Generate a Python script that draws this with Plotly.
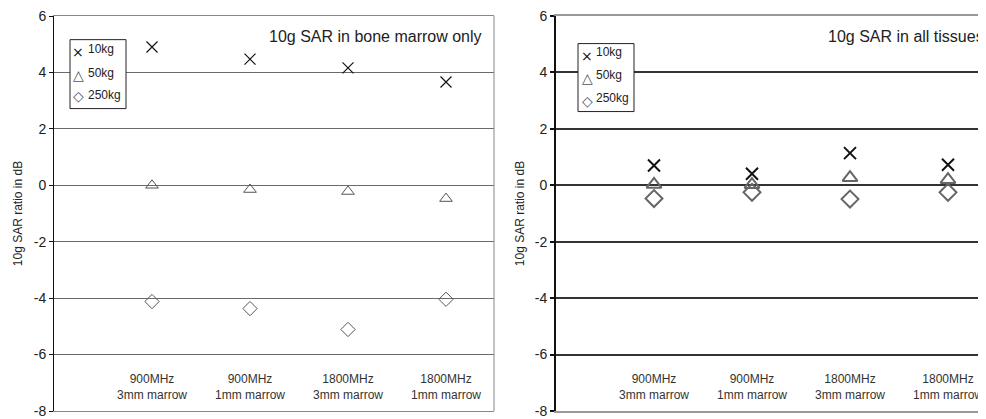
import plotly.graph_objects as go

categories = ["900MHz<br>3mm marrow", "900MHz<br>1mm marrow", "1800MHz<br>3mm marrow", "1800MHz<br>1mm marrow"]
cat_pos = [1, 2, 3, 4]
series_names = ["10kg", "50kg", "250kg"]
legend_symbols = ["×", "△", "◇"]

marrow_10kg = [4.9, 4.47, 4.16, 3.66]
marrow_50kg = [0.0, -0.15, -0.22, -0.47]
marrow_250kg = [-4.12, -4.37, -5.11, -4.04]

tissue_10kg = [0.70, 0.41, 1.14, 0.73]
tissue_50kg = [0.03, 0.02, 0.27, 0.2]
tissue_250kg = [-0.47, -0.25, -0.49, -0.25]

panel_titles = ["10g SAR in bone marrow only", "10g SAR in all tissues"]
y_title = "10g SAR ratio in dB"
y_ticks = [-8, -6, -4, -2, 0, 2, 4, 6]
y_ticktext = ["-8", "-6", "-4", "-2", "0", "2", "4", "6"]

# page body has an 8px margin; work in screen pixels and convert
OFF = 8
W, H = 986 - OFF, 419 - OFF
TOP, BOT = 11, 412  # screen y of plot top/bottom
MT, MB = TOP - OFF, (H + OFF) - BOT
PH = BOT - TOP
FONT = "Liberation Sans, Arial, sans-serif"


def px(xs):
    return (xs - OFF) / W


def py(ys):
    return (BOT - ys) / PH


fig = go.Figure()

left_style = [
    dict(symbol="x-thin-open", size=11, color="#111111", lw=1.2),
    dict(symbol="triangle-up-open", size=11, color="#555555", lw=1.0),
    dict(symbol="diamond-open", size=11, color="#555555", lw=1.0),
]
right_style = [
    dict(symbol="x-thin-open", size=12, color="#111111", lw=2.0),
    dict(symbol="triangle-up-open", size=13, color="#666666", lw=2.0),
    dict(symbol="diamond-open", size=13, color="#666666", lw=2.0),
]

for name, vals, st in zip(series_names, [marrow_10kg, marrow_50kg, marrow_250kg], left_style):
    fig.add_trace(go.Scatter(
        x=cat_pos, y=vals, mode="markers", name=name, showlegend=False,
        marker=dict(symbol=st["symbol"], size=st["size"], color=st["color"],
                    line=dict(color=st["color"], width=st["lw"])),
        xaxis="x", yaxis="y"))

for name, vals, st in zip(series_names, [tissue_10kg, tissue_50kg, tissue_250kg], right_style):
    fig.add_trace(go.Scatter(
        x=cat_pos, y=vals, mode="markers", name=name, showlegend=False,
        marker=dict(symbol=st["symbol"], size=st["size"], color=st["color"],
                    line=dict(color=st["color"], width=st["lw"])),
        xaxis="x2", yaxis="y2"))

step = 98.0
x1_range = [0, (494 - 54) / step]
x2_range = [0, (986 - 556) / step]

common_y = dict(range=[-8, 6], tickvals=y_ticks, ticktext=y_ticktext, ticks="outside", ticklen=4,
                tickfont=dict(size=14, color="#222222"), zeroline=False,
                ticklabeloverflow="allow",
                title=dict(text=y_title, font=dict(size=12, color="#222222"), standoff=8))

fig.update_layout(
    width=W, height=H,
    margin=dict(l=0, r=0, t=MT, b=MB),
    paper_bgcolor="white", plot_bgcolor="white",
    font=dict(family=FONT, color="#222222"),
    showlegend=False,
    xaxis=dict(domain=[px(54), px(494)], range=x1_range, showgrid=False, zeroline=False,
               showticklabels=False, ticks="", showline=True, linecolor="#888888",
               linewidth=1, mirror=True),
    xaxis2=dict(domain=[px(556), 1.0], range=x2_range, showgrid=False, zeroline=False,
                showticklabels=False, ticks="", showline=True, linecolor="#999999",
                linewidth=2, mirror=True),
    yaxis=dict(domain=[0, 1], anchor="x", showline=True, linecolor="#111111", linewidth=1,
               tickcolor="#111111", gridcolor="#6a6a6a", gridwidth=1.3, **common_y),
    yaxis2=dict(domain=[0, 1], anchor="x2", showline=True, linecolor="#111111", linewidth=2,
                tickcolor="#111111", tickwidth=2, gridcolor="#333333", gridwidth=2, **common_y),
)

# right border of left panel (grey)
fig.add_shape(type="line", xref="x domain", yref="y domain", x0=1, x1=1, y0=0, y1=1,
              line=dict(color="#888888", width=1))

# category labels inside plots
for xa in ["x", "x2"]:
    for pos, lab in zip(cat_pos, categories):
        fig.add_annotation(x=pos, y=py(388), xref=xa, yref="paper", text=lab, showarrow=False,
                           yanchor="middle", align="center",
                           font=dict(size=12, color="#333333"))

# panel titles
fig.add_annotation(x=px(484), y=py(32), xref="paper", yref="paper",
                   text=panel_titles[0], showarrow=False, xanchor="right", yanchor="middle",
                   font=dict(size=16, color="#222222"))
fig.add_annotation(x=px(826), y=py(32), xref="paper", yref="paper",
                   text=panel_titles[1], showarrow=False, xanchor="left", yanchor="middle",
                   font=dict(size=16, color="#222222"))

# legends (boxed keys)
legend_boxes = [
    dict(x0=70, x1=126, y0=35, y1=105, sx=78, tx=86, sy=[48, 71, 92], ty=[45, 69, 91]),
    dict(x0=578, x1=634, y0=39, y1=108, sx=587, tx=594, sy=[52, 74, 97], ty=[48, 71, 94]),
]
sym_colors = ["#111111", "#555555", "#555555"]
for lb in legend_boxes:
    fig.add_shape(type="rect", xref="paper", yref="paper",
                  x0=px(lb["x0"]), x1=px(lb["x1"]), y0=py(lb["y1"]), y1=py(lb["y0"]),
                  line=dict(color="#222222", width=1), fillcolor="white", layer="above")
    for sym, col, name, sy, ty in zip(legend_symbols, sym_colors, series_names, lb["sy"], lb["ty"]):
        fig.add_annotation(x=px(lb["sx"]), y=py(sy), xref="paper", yref="paper", text=sym,
                           showarrow=False, xanchor="center", yanchor="middle",
                           font=dict(size=14, color=col, family="DejaVu Sans"))
        fig.add_annotation(x=px(lb["tx"]), y=py(ty), xref="paper", yref="paper", text=name,
                           showarrow=False, xanchor="left", yanchor="middle",
                           font=dict(size=12, color="#222222"))

fig.write_html("out.html")
